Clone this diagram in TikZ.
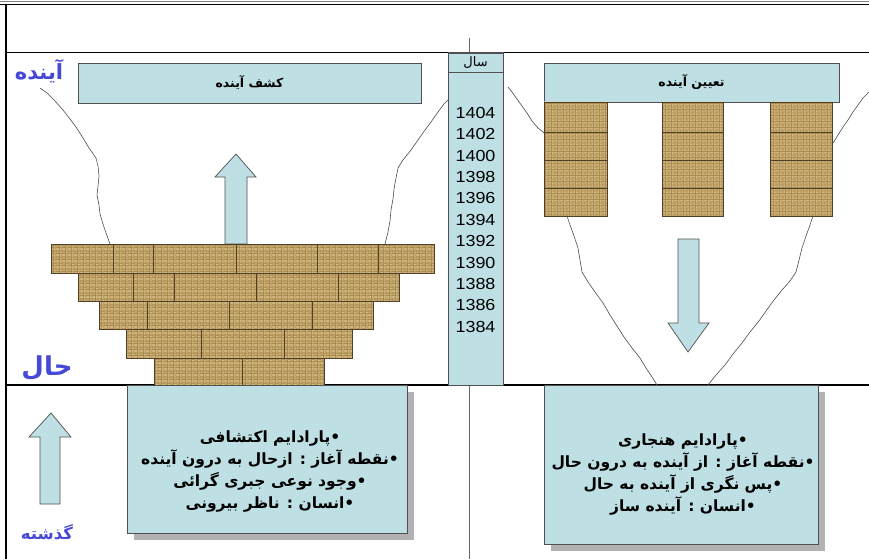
\documentclass[tikz,border=0pt]{standalone}
\usepackage{fontspec}
\usetikzlibrary{patterns.meta}
\TeXXeTstate=1
\setmainfont{Liberation Sans}
\newfontfamily\arabicfont[Script=Arabic]{DejaVu Sans}

\definecolor{panelblue}{RGB}{190,224,228}
\definecolor{boxedge}{RGB}{80,80,80}
\definecolor{brickbase}{RGB}{170,138,80}
\definecolor{brickhi}{RGB}{230,210,152}
\definecolor{brickedge}{RGB}{80,64,40}
\definecolor{labelblue}{RGB}{70,72,214}
\definecolor{shadowgray}{RGB}{178,178,178}

% basket-weave texture for the bricks
\tikzdeclarepattern{
  name=weave,
  type=uncolored,
  bounding box={(0pt,0pt) and (6pt,6pt)},
  tile size={(6pt,6pt)},
  code={
    \draw[line width=0.5pt]
      (0pt,0.75pt) -- (3pt,0.75pt) (0pt,2.25pt) -- (3pt,2.25pt)
      (3.75pt,0pt) -- (3.75pt,3pt) (5.25pt,0pt) -- (5.25pt,3pt)
      (0.75pt,3pt) -- (0.75pt,6pt) (2.25pt,3pt) -- (2.25pt,6pt)
      (3pt,3.75pt) -- (6pt,3.75pt) (3pt,5.25pt) -- (6pt,5.25pt);
  }
}

\tikzset{
  frame/.style={line width=1.8pt, black},
  bluebox/.style={draw=boxedge, line width=0.7pt, fill=panelblue, inner sep=0pt},
  brick/.style={fill=brickbase, postaction={pattern=weave, pattern color=brickhi}},
  brickline/.style={draw=brickedge, line width=0.7pt},
  wavy/.style={draw=black!70, line width=0.6pt, line join=round},
  bigarrow/.style={draw=boxedge, line width=0.7pt, fill=panelblue, line join=miter},
  bluelabel/.style={text=labelblue},
  title/.style={font=\arabicfont\bfseries\fontsize{12.5}{14}\selectfont},
  infotext/.style={font=\arabicfont\bfseries\fontsize{15.5}{22}\selectfont, align=center},
  yeartext/.style={font=\fontsize{16}{21.4}\selectfont, align=center, xscale=1.12}
}

\begin{document}
\begin{tikzpicture}[x=1pt,y=-1pt]
\useasboundingbox (0,0) rectangle (869,559);
\fill[white] (0,0) rectangle (869,559);

% page frame
\draw[black!50, line width=0.6pt] (0,1) -- (869,1);
\draw[frame] (0,4.5) -- (869,4.5);
\draw[frame] (6,4) -- (6,559);
\draw[frame] (6,52.5) -- (869,52.5);
\draw[frame] (6,385) -- (869,385);
\draw[black!60, line width=0.8pt] (469,38) -- (469,559);

% year column
\node[bluebox, minimum width=55pt, minimum height=333pt] (yearcol) at (475.5,218.5) {};
\node[bluebox, minimum width=55pt, minimum height=19pt] (salbox) at (475.5,62.5)
  {\arabicfont\fontsize{13}{15}\selectfont\beginR سال\endR};
\node[yeartext, anchor=north] (years) at (475.5,103.5)
  {1404\\1402\\1400\\1398\\1396\\1394\\1392\\1390\\1388\\1386\\1384};

% ---------- left panel: discovering the future ----------
\node[bluebox, minimum width=343pt, minimum height=40pt, title] (kashf) at (249.5,83)
  {\beginR کشف آینده\endR};

% side outlines of the funnel
\draw[wavy] (40,88) -- (47,93) -- (55,101) -- (63,110) -- (70,119) -- (76,127) -- (83,138)
  -- (89,148) -- (96,158) -- (98,166) -- (99,176) -- (98,186) -- (97,195) -- (99,205)
  -- (100,214) -- (103,224) -- (106,233) -- (110,244);
\draw[wavy] (448,100) -- (444,104) -- (438,112) -- (431,122) -- (425,130) -- (418,140)
  -- (411,150) -- (403,160) -- (398,168) -- (396,178) -- (394,189) -- (393,199)
  -- (391,210) -- (390,221) -- (388,232) -- (385,244);

% upward arrow above the wall
\draw[bigarrow] (236,154) -- (256,177) -- (247,177) -- (247,244) -- (225,244)
  -- (225,177) -- (215,177) -- cycle;

% stepped wall
\foreach \xa/\xb/\ya/\yb/\cuts in {
    51/434/244/273/{113,153,236,317,378},
    78/399/273/301/{133,174,256,338},
    99/373/301/329/{147,229,312},
    126/352/329/358/{201,284},
    154/324/358/386/{242}}{
  \path[brick] (\xa,\ya) rectangle (\xb,\yb);
  \foreach \c in \cuts { \draw[brickline] (\c,\ya) -- (\c,\yb); }
  \draw[brickline] (\xa,\ya) rectangle (\xb,\yb);
}

% ---------- right panel: shaping the future ----------
\node[bluebox, minimum width=295pt, minimum height=39pt, title] (tayin) at (691.5,82.5)
  {\beginR تعیین آینده\endR};

\foreach \xa/\xb in {544/607, 662/723, 770/832}{
  \path[brick] (\xa,102) rectangle (\xb,216);
  \foreach \yy in {132,160,188} { \draw[brickline] (\xa,\yy) -- (\xb,\yy); }
  \draw[brickline] (\xa,102) rectangle (\xb,216);
}

\draw[wavy] (508,87) -- (512,92) -- (517,99) -- (522,106) -- (527,113) -- (532,121)
  -- (538,128) -- (544,133);
\draw[wavy] (833,143) -- (838,135) -- (843,127) -- (848,120) -- (853,112) -- (858,105)
  -- (863,98) -- (869,92);
\draw[wavy] (567,216) -- (570,225) -- (574,236) -- (578,248) -- (580,260) -- (582,272)
  -- (588,282) -- (595,292) -- (603,303) -- (610,315) -- (617,326) -- (624,337)
  -- (632,348) -- (640,358) -- (646,368) -- (652,377) -- (657,385);
\draw[wavy] (813,216) -- (810,225) -- (806,236) -- (802,248) -- (799,260) -- (796,272)
  -- (790,281) -- (782,290) -- (774,300) -- (766,311) -- (759,321) -- (750,332)
  -- (742,343) -- (733,354) -- (725,365) -- (716,375) -- (708,385);

% downward arrow
\draw[bigarrow] (678,239) -- (699,239) -- (699,323) -- (709,323) -- (688,352)
  -- (668,323) -- (678,323) -- cycle;

% ---------- lower band ----------
\draw[bigarrow] (51,413) -- (71,437) -- (60,437) -- (60,504) -- (40,504) -- (40,437)
  -- (29,437) -- cycle;

\fill[shadowgray] (134,392) rectangle (414,540);
\node[bluebox, minimum width=280pt, minimum height=148pt] (leftinfo) at (267,459) {};
\node[infotext] (lefttext) at (270,471)
  {\beginR •پارادایم اکتشافی\endR\\
   \beginR •نقطه آغاز : ازحال به درون آینده\endR\\
   \beginR •وجود نوعی جبری گرائی\endR\\
   \beginR •انسان : ناظر بیرونی\endR};

\fill[shadowgray] (551,392) rectangle (825,551);
\node[bluebox, minimum width=274pt, minimum height=159pt] (rightinfo) at (681,464.5) {};
\node[infotext] (righttext) at (683,474)
  {\beginR •پارادایم هنجاری\endR\\
   \beginR •نقطه آغاز : از آینده به درون حال\endR\\
   \beginR •پس نگری از آینده به حال\endR\\
   \beginR •انسان : آینده ساز\endR};

% time labels
\node[bluelabel, font=\arabicfont\bfseries\fontsize{21}{24}\selectfont] (future) at (39,71)
  {\beginR آینده\endR};
\node[bluelabel, font=\arabicfont\bfseries\fontsize{26}{30}\selectfont] (present) at (47,368)
  {\beginR حال\endR};
\node[bluelabel, font=\arabicfont\bfseries\fontsize{16.5}{20}\selectfont] (past) at (47,532)
  {\beginR گذشته\endR};
\end{tikzpicture}
\end{document}
